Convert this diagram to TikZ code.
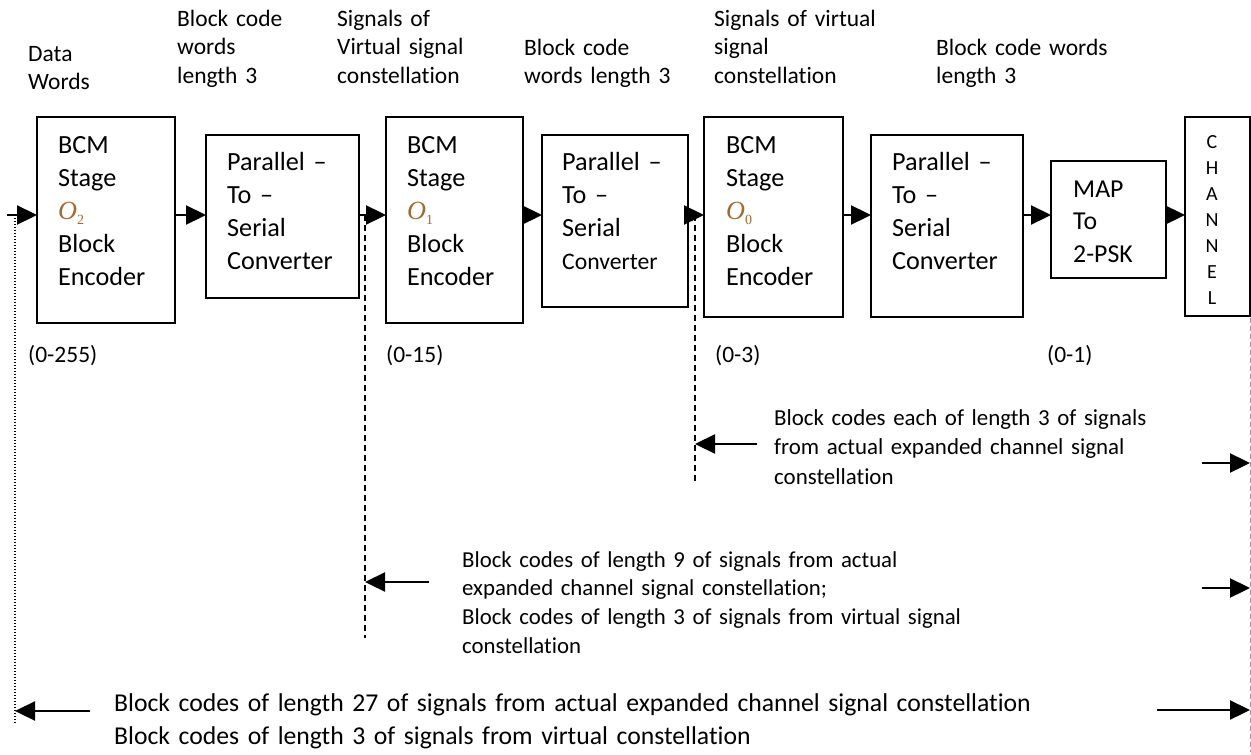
\documentclass[tikz,border=0pt]{standalone}
\usepackage{fontspec}
\setmainfont{Carlito}[Ligatures={TeX,NoCommon}]
\newfontfamily\ofont{Liberation Serif}
\usetikzlibrary{arrows.meta}
\definecolor{ocol}{RGB}{165,105,45}
\definecolor{gline}{RGB}{150,150,150}
\newcommand{\Ostage}[1]{{\color{ocol}\ofont\itshape O\raisebox{-5pt}{\fontsize{14}{14}\selectfont\upshape #1}}}
\begin{document}
\begin{tikzpicture}[x=1pt,y=-1pt,
  box/.style={draw,line width=1.3pt,inner sep=0pt,outer sep=0pt,anchor=north west},
  btxt/.style={anchor=base west,inner sep=0pt,align=left,text width=300pt,font=\fontsize{26.2}{33}\selectfont},
  lbl/.style={anchor=base west,inner sep=0pt,align=left,text width=1000pt,font=\fontsize{23.5}{28.5}\selectfont},
  arr/.style={line width=2.3pt,-{Triangle[length=20pt,width=19pt]}},
  dash1/.style={line width=1.3pt,dash pattern=on 6pt off 4pt},
  dot1/.style={line width=1.2pt,dash pattern=on 1.2pt off 1.8pt},
  gdash/.style={line width=1pt,gline,dash pattern=on 5pt off 3pt}
]
\useasboundingbox (0,0) rectangle (1251,755);

% boxes
\node[box,minimum width=138pt,minimum height=206pt] (b1) at (37,117) {};
\node[box,minimum width=153pt,minimum height=163pt] (b2) at (206,135) {};
\node[box,minimum width=137pt,minimum height=206pt] (b3) at (386,117) {};
\node[box,minimum width=146pt,minimum height=172pt] (b4) at (542,135) {};
\node[box,minimum width=139pt,minimum height=200pt] (b5) at (704,117) {};
\node[box,minimum width=152pt,minimum height=182pt] (b6) at (871,135) {};
\node[box,minimum width=115pt,minimum height=117pt] (b7) at (1051,161) {};
\node[box,minimum width=65pt,minimum height=199pt] (b8) at (1185,117) {};

% box texts
\node[btxt] (t1) at (58,153) {BCM\\Stage\\\Ostage{2}\\Block\\Encoder};
\node[btxt] (t2) at (227,170) {Parallel –\\To –\\Serial\\Converter};
\node[btxt] (t3) at (407,153) {BCM\\Stage\\\Ostage{1}\\Block\\Encoder};
\node[btxt] (t4) at (562,170) {Parallel –\\To –\\Serial\\{\fontsize{23.7}{33}\selectfont Converter}};
\node[btxt] (t5) at (726,153) {BCM\\Stage\\\Ostage{0}\\Block\\Encoder};
\node[btxt] (t6) at (892,170) {Parallel –\\To –\\Serial\\Converter};
\node[btxt,font=\fontsize{25.8}{32.5}\selectfont] (t7) at (1073,197) {MAP\\To\\2-PSK};
\node[anchor=base,inner sep=0pt,align=center,text width=30pt,font=\fontsize{20}{26}\selectfont] (t8) at (1212,148) {C\\H\\A\\N\\N\\E\\L};

% top labels
\node[lbl] (l0) at (28,61) {Data\\Words};
\node[lbl] (l1) at (177,26) {Block code\\words\\length 3};
\node[lbl] (l2) at (337,26) {Signals of\\Virtual signal\\constellation};
\node[lbl] (l3) at (524,55) {Block code\\words length 3};
\node[lbl] (l4) at (714,26) {Signals of virtual\\signal\\constellation};
\node[lbl] (l5) at (936,55) {Block code words\\length 3};

% ranges
\node[lbl] (r0) at (28,362) {(0-255)};
\node[lbl] (r1) at (386,362) {(0-15)};
\node[lbl] (r2) at (715,362) {(0-3)};
\node[lbl] (r3) at (1047,362) {(0-1)};

% lower texts
\node[lbl,font=\fontsize{22.9}{29.5}\selectfont] (n1) at (774,425) {Block codes each of length 3 of signals\\from actual expanded channel signal\\constellation};
\node[lbl,font=\fontsize{22.8}{28.7}\selectfont] (n2) at (462,567) {Block codes of length 9 of signals from actual\\expanded channel signal constellation;\\Block codes of length 3 of signals from virtual signal\\constellation};
\node[lbl,font=\fontsize{25.7}{33}\selectfont] (n3) at (114,711) {Block codes of length 27 of signals from actual expanded channel signal constellation\\Block codes of length 3 of signals from virtual constellation};

% forward flow
\coordinate (row) at (0,215);
\coordinate (in) at (7,215);
\draw[arr] (in) -- (in -| b1.west);
\draw[arr] (b1.east |- row) -- (b2.west |- row);
\draw[arr] (b2.east |- row) -- (b3.west |- row);
\draw[arr] (b3.east |- row) -- (b4.west |- row);
\draw[arr] (b4.east |- row) -- (b5.west |- row);
\draw[arr] (b5.east |- row) -- (b6.west |- row);
\draw[arr] (b6.east |- row) -- (b7.west |- row);
\draw[arr] (b7.east |- row) -- (b8.west |- row);

% vertical markers
\coordinate (v0t) at (15,218);
\coordinate (v0b) at (15,723);
\coordinate (v1t) at (365,215);
\coordinate (v1b) at (365,638);
\coordinate (v2t) at (695,215);
\coordinate (v2b) at (695,482);
\coordinate (v3t) at (1250,318);
\coordinate (v3b) at (1250,752);
\draw[dot1] (v0t) -- (v0b);
\draw[dash1] (v1t) -- (v1b);
\draw[dash1] (v2t) -- (v2b);
\draw[gdash] (v3t) -- (v3b);

% return arrows
\coordinate (a1) at (757,444);
\coordinate (a2) at (429,582);
\coordinate (a3) at (90,711);
\draw[arr] (a1) -- (a1 -| v2t);
\draw[arr] (a2) -- (a2 -| v1t);
\draw[arr] (a3) -- (a3 -| v0t);

% arrows into channel line
\coordinate (c1) at (1202,463);
\coordinate (c2) at (1202,588);
\coordinate (c3) at (1157,710);
\draw[arr] (c1) -- (c1 -| v3t);
\draw[arr] (c2) -- (c2 -| v3t);
\draw[arr] (c3) -- (c3 -| v3t);
\end{tikzpicture}
\end{document}
